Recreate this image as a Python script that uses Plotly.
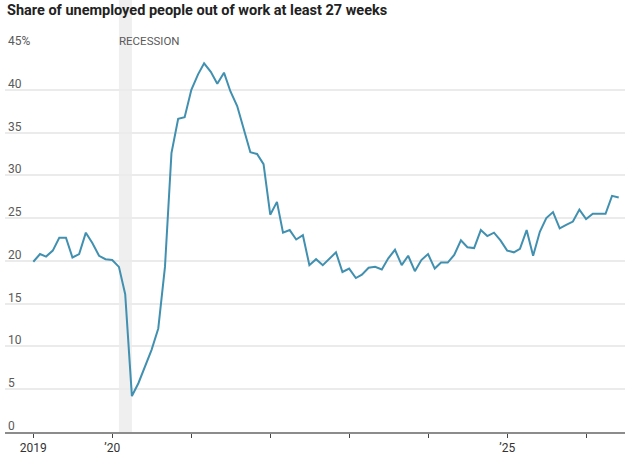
import pandas as pd
import plotly.graph_objects as go

# Monthly share (%) of unemployed out of work at least 27 weeks, Jan 2019 - Jun 2026
months = pd.date_range("2019-01-01", periods=90, freq="MS")
share = [
    19.9, 20.8, 20.5, 21.2, 22.7, 22.7, 20.4, 20.8, 23.3, 22.1, 20.6, 20.2,  # 2019
    20.1, 19.3, 16.1, 4.2, 5.7, 7.7, 9.6, 12.1, 19.3, 32.6, 36.6, 36.8,      # 2020
    40.0, 41.8, 43.1, 42.1, 40.7, 42.0, 39.8, 38.1, 35.3, 32.7, 32.5, 31.3,  # 2021
    25.4, 26.9, 23.3, 23.6, 22.5, 23.0, 19.5, 20.2, 19.5, 20.2, 21.0, 18.7,  # 2022
    19.1, 18.0, 18.4, 19.2, 19.3, 19.0, 20.3, 21.3, 19.5, 20.6, 18.8, 20.1,  # 2023
    20.8, 19.1, 19.8, 19.8, 20.7, 22.4, 21.6, 21.5, 23.6, 22.9, 23.3, 22.4,  # 2024
    21.2, 21.0, 21.4, 23.6, 20.6, 23.4, 25.0, 25.7, 23.8, 24.2, 24.6, 26.0,  # 2025
    24.9, 25.5, 25.5, 25.5, 27.6, 27.4,                                      # 2026
]

x_tick_vals = ["2019-01-01", "2020-01-01", "2021-01-01", "2022-01-01",
               "2023-01-01", "2024-01-01", "2025-01-01", "2026-01-01"]
x_tick_text = ["2019", "\u201920", "", "", "", "", "\u201925", ""]
y_tick_vals = [0, 5, 10, 15, 20, 25, 30, 35, 40, 45]
y_tick_text = ["0", "5", "10", "15", "20", "25", "30", "35", "40", "45%"]
recession = ("2020-02-01", "2020-04-01")

FONT = "Roboto, Arial, sans-serif"

fig = go.Figure()
fig.add_vrect(x0=recession[0], x1=recession[1], y0=0, y1=45,
              fillcolor="#efefef", line_width=0, layer="below")
fig.add_trace(go.Scatter(x=months, y=share, mode="lines",
                         line=dict(color="#4190b0", width=2),
                         hoverinfo="skip", showlegend=False))

for v, t in zip(y_tick_vals, y_tick_text):
    fig.add_annotation(x=0, xref="paper", y=v, yref="y", text=t,
                       showarrow=False, xanchor="left", yanchor="bottom",
                       xshift=1, yshift=-3,
                       font=dict(family=FONT, size=12, color="#5a5a5a"))

fig.add_annotation(x=recession[0], xref="x", y=45, yref="y", text="RECESSION",
                   showarrow=False, xanchor="left", yanchor="bottom",
                   xshift=-2, yshift=-3,
                   font=dict(family=FONT, size=11.5, color="#5a5a5a"))

fig.update_layout(
    width=629, height=461,
    margin=dict(l=5, r=4, t=47, b=29),
    paper_bgcolor="white", plot_bgcolor="white",
    title=dict(text="<b>Share of unemployed people out of work at least 27 weeks</b>",
               x=7 / 629, xanchor="left", xref="container",
               y=1 - 5 / 461, yanchor="top", yref="container",
               font=dict(family=FONT, size=14.5, color="#222222")),
    xaxis=dict(type="date", range=["2018-08-23", "2026-06-30"],
               tickvals=x_tick_vals, ticktext=x_tick_text,
               showgrid=False, zeroline=False,
               showline=True, linecolor="#8c8c8c", linewidth=2,
               ticks="outside", ticklen=4, tickcolor="#444444", tickwidth=1,
               tickfont=dict(family=FONT, size=12, color="#333333")),
    yaxis=dict(range=[0, 45], tickvals=y_tick_vals, showticklabels=False,
               showgrid=True, gridcolor="#ebebeb", gridwidth=1.5,
               zeroline=False, showline=False, ticks=""),
)

fig.write_html("out.html")
